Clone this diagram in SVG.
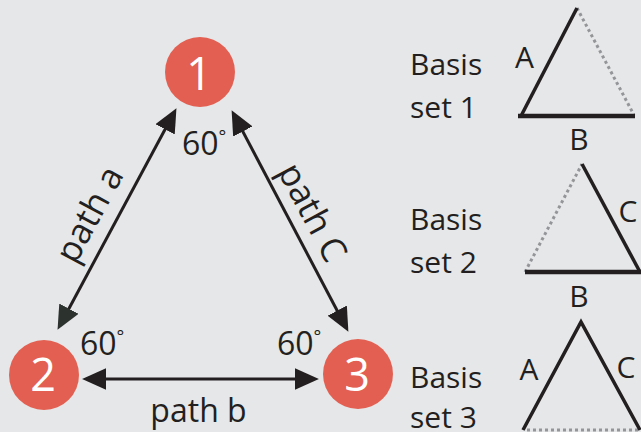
<svg xmlns="http://www.w3.org/2000/svg" width="641" height="432" viewBox="0 0 641 432">
<defs>
<style>
.bg{fill:#e6e7e8}
.node circle{fill:#e35f51}
.num{font-family:"Open Sans","Liberation Sans",sans-serif;font-size:45px;fill:#ffffff;text-anchor:middle}
.lbl{font-family:"Open Sans","Liberation Sans",sans-serif;font-size:32px;fill:#231f20}
.rot{font-size:35px}
.deg{font-size:18px}
.side{font-family:"Open Sans","Liberation Sans",sans-serif;font-size:30px;fill:#231f20}
.mid{text-anchor:middle}
.conn{stroke:#231f20;stroke-width:3;fill:none}
.solid{stroke:#231f20;stroke-width:3.5;fill:none;stroke-linecap:butt}
.base{stroke:#231f20;stroke-width:4.5;fill:none}
.dot{stroke:#939598;stroke-width:3;stroke-dasharray:3 3;fill:none}
</style>
<marker id="ah" markerUnits="userSpaceOnUse" markerWidth="24" markerHeight="22" refX="12" refY="10" orient="auto-start-reverse" viewBox="0 0 22 20">
<path d="M0,0 L22,10 L0,20 z" fill="#231f20"/>
</marker>
<marker id="ahg" markerUnits="userSpaceOnUse" markerWidth="24" markerHeight="22" refX="12" refY="10" orient="auto-start-reverse" viewBox="0 0 22 20">
<path d="M0,0 L22,10 L0,20 z" fill="#2c322e"/>
</marker>
</defs>
<rect class="bg" x="0" y="0" width="641" height="432"/>

<g id="connectors">
<line id="path-a" class="conn" x1="62.7" y1="320.2" x2="171.3" y2="117.8" marker-start="url(#ahg)" marker-end="url(#ah)"/>
<line id="path-c" class="conn" x1="236.7" y1="119.9" x2="343.3" y2="322.2" marker-start="url(#ah)" marker-end="url(#ah)"/>
<line id="path-b" class="conn" x1="93" y1="379" x2="308" y2="379" marker-start="url(#ah)" marker-end="url(#ah)"/>
<text class="lbl rot mid" transform="translate(100,220) rotate(-61.6)" x="0" y="0">path a</text>
<text class="lbl rot mid" transform="translate(302,218) rotate(61.9)" x="0" y="0">path C</text>
<text class="lbl mid" x="198.5" y="422">path b</text>
</g>

<g id="node1" class="node">
<circle cx="200" cy="72" r="35"/>
<text class="num" x="199" y="90">1</text>
</g>
<g id="node2" class="node">
<circle cx="44" cy="375" r="35"/>
<text class="num" x="43" y="391">2</text>
</g>
<g id="node3" class="node">
<circle cx="358" cy="374" r="35"/>
<text class="num" x="357" y="391">3</text>
</g>

<g id="angles">
<text class="lbl" x="182" y="155">60<tspan class="deg" dy="-12">°</tspan></text>
<text class="lbl" x="80" y="355">60<tspan class="deg" dy="-12">°</tspan></text>
<text class="lbl" x="277" y="355">60<tspan class="deg" dy="-12">°</tspan></text>
</g>

<g id="basis1">
<text class="side" x="410" y="75">Basis</text>
<text class="side" x="410" y="118">set 1</text>
<line class="dot" x1="577" y1="8" x2="634" y2="115"/>
<line class="solid" x1="521" y1="116" x2="577" y2="8"/>
<line class="base" x1="518" y1="116" x2="635" y2="116"/>
<text class="side mid" x="524.5" y="68">A</text>
<text class="side mid" x="579" y="150">B</text>
</g>

<g id="basis2">
<text class="side" x="410" y="230">Basis</text>
<text class="side" x="410" y="273">set 2</text>
<line class="dot" x1="525" y1="272" x2="582" y2="164"/>
<line class="solid" x1="582" y1="164" x2="640" y2="272"/>
<line class="base" x1="525" y1="272" x2="641" y2="272"/>
<text class="side mid" x="628" y="222">C</text>
<text class="side mid" x="579" y="307">B</text>
</g>

<g id="basis3">
<text class="side" x="410" y="388">Basis</text>
<text class="side" x="410" y="428">set 3</text>
<line class="dot" x1="527" y1="430" x2="641" y2="430"/>
<polyline class="solid" points="523,430 581,322 640,430"/>
<text class="side mid" x="529" y="380">A</text>
<text class="side mid" x="626" y="378">C</text>
</g>
</svg>
